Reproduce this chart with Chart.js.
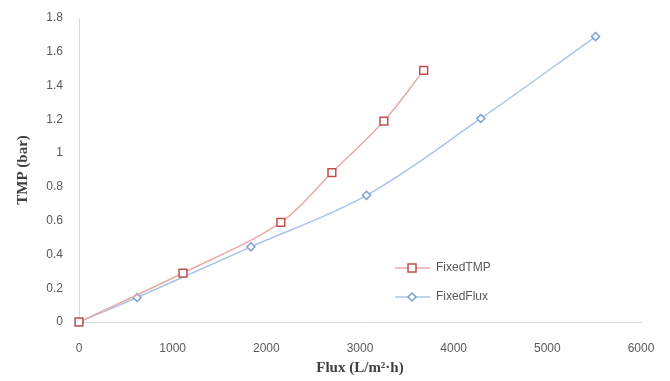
<!DOCTYPE html>
<html>
<head>
<meta charset="utf-8">
<script src="https://cdn.jsdelivr.net/npm/chart.js@4/dist/chart.umd.min.js"></script>
<style>
  html, body { margin: 0; padding: 0; background: #fff; }
  #wrap { width: 670px; height: 381px; position: relative; }
</style>
</head>
<body>
<div id="wrap"><canvas id="tmpChart"></canvas></div>
<script>
// values
var tmpFlux = [0, 1110, 2155, 2700, 3255, 3680];
var tmpValues = [0, 0.29, 0.59, 0.885, 1.19, 1.49];
var fluxFlux = [0, 620, 1835, 3070, 4290, 5515];
var fluxValues = [0, 0.145, 0.445, 0.75, 1.205, 1.69];
var seriesNames = ['FixedTMP', 'FixedFlux'];
var xTicks = [0, 1000, 2000, 3000, 4000, 5000, 6000];
var yTicks = [0, 0.2, 0.4, 0.6, 0.8, 1, 1.2, 1.4, 1.6, 1.8];

function toPoints(xs, ys) {
    return xs.map((x, i) => ({ x: x, y: ys[i] }));
}

var redLine = '#eaa9a7', redMark = '#c0504d';
var blueLine = '#a9c4e8', blueMark = '#7c9fd4';

// legend drawn inside the plot, like the original
var insideLegend = {
    id: 'insideLegend',
    afterDraw(chart) {
        var ctx = chart.ctx;
        var rows = [
            { name: seriesNames[0], line: redLine, mark: redMark, style: 'rect', y: 268 },
            { name: seriesNames[1], line: blueLine, mark: blueMark, style: 'rectRot', y: 297 }
        ];
        ctx.save();
        rows.forEach(r => {
            ctx.strokeStyle = r.line;
            ctx.lineWidth = 1.5;
            ctx.beginPath();
            ctx.moveTo(395, r.y);
            ctx.lineTo(430, r.y);
            ctx.stroke();
            ctx.fillStyle = '#fff';
            ctx.strokeStyle = r.mark;
            ctx.lineWidth = 1.5;
            if (r.style == 'rect') {
                ctx.fillRect(408, r.y - 4, 8, 8);
                ctx.strokeRect(408, r.y - 4, 8, 8);
            } else {
                ctx.beginPath();
                ctx.moveTo(412, r.y - 4);
                ctx.lineTo(416, r.y);
                ctx.lineTo(412, r.y + 4);
                ctx.lineTo(408, r.y);
                ctx.closePath();
                ctx.fill();
                ctx.stroke();
            }
            ctx.fillStyle = '#595959';
            ctx.font = '12px "Liberation Sans", Arial, sans-serif';
            ctx.textBaseline = 'middle';
            ctx.fillText(r.name, 436, r.y);
        });
        ctx.restore();
    }
};

new Chart(document.getElementById('tmpChart'), {
    type: 'scatter',
    data: {
        datasets: [{
            label: seriesNames[0],
            data: toPoints(tmpFlux, tmpValues),
            showLine: true,
            borderColor: redLine,
            borderWidth: 1.5,
            tension: 0.35,
            pointStyle: 'rect',
            pointRadius: 5.5,
            pointBorderWidth: 1.5,
            pointBorderColor: redMark,
            pointBackgroundColor: '#fff',
            clip: false
        }, {
            label: seriesNames[1],
            data: toPoints(fluxFlux, fluxValues),
            showLine: true,
            borderColor: blueLine,
            borderWidth: 1.5,
            tension: 0.35,
            pointStyle: 'rectRot',
            pointRadius: 4,
            pointBorderWidth: 1.5,
            pointBorderColor: blueMark,
            pointBackgroundColor: '#fff',
            clip: false
        }]
    },
    options: {
        responsive: true,
        maintainAspectRatio: false,
        animation: false,
        layout: { padding: { left: 4, right: 29, top: 18, bottom: 0 } },
        plugins: {
            legend: { display: false },
            tooltip: { enabled: false }
        },
        scales: {
            x: {
                type: 'linear',
                min: 0,
                max: 6000,
                afterBuildTicks: s => { s.ticks = xTicks.map(v => ({ value: v })); },
                afterFit: s => { s.height = 59; },
                grid: { display: false },
                border: { display: true, color: '#d9d9d9', width: 1 },
                ticks: {
                    color: '#595959',
                    padding: 11,
                    font: { family: '"Liberation Sans", Arial, sans-serif', size: 12 },
                    callback: v => String(v)
                },
                title: {
                    display: true,
                    text: 'Flux (L/m²·h)',
                    color: '#404040',
                    padding: { top: 0, bottom: 4 },
                    font: { family: '"Liberation Serif", "Times New Roman", serif', size: 15, weight: 'bold' }
                }
            },
            y: {
                type: 'linear',
                min: 0,
                max: 1.8,
                afterBuildTicks: s => { s.ticks = yTicks.map(v => ({ value: v })); },
                afterFit: s => { s.width = 75; },
                grid: { display: false },
                border: { display: true, color: '#d9d9d9', width: 1 },
                ticks: {
                    color: '#595959',
                    padding: 8,
                    font: { family: '"Liberation Sans", Arial, sans-serif', size: 12 },
                    callback: v => String(Math.round(v * 10) / 10)
                },
                title: {
                    display: true,
                    text: 'TMP (bar)',
                    color: '#404040',
                    padding: { top: 10, bottom: 0 },
                    font: { family: '"Liberation Serif", "Times New Roman", serif', size: 15, weight: 'bold' }
                }
            }
        }
    },
    plugins: [insideLegend]
});
</script>
</body>
</html>
